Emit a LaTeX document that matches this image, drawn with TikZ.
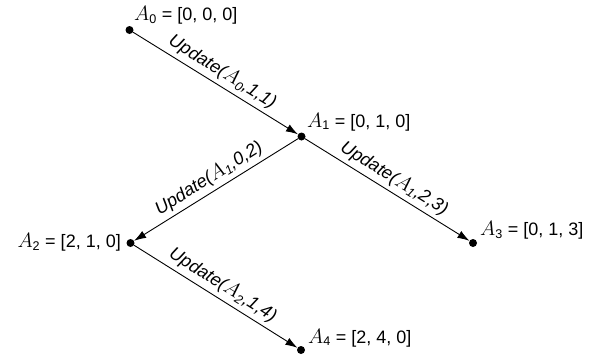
\documentclass[tikz,border=0pt]{standalone}
\usepackage{fontspec}
\setmainfont{Liberation Sans}
\usetikzlibrary{arrows.meta}
\newcommand{\Avar}[1]{\scalebox{1.2}{$A$}\textsubscript{#1}}
\begin{document}
\begin{tikzpicture}[x=1pt,y=-1pt,
  dot/.style={circle,fill=black,inner sep=0pt,minimum size=8pt},
  vlabel/.style={inner sep=0pt,font=\fontsize{18}{22}\selectfont},
  elabel/.style={sloped,above=4pt,inner sep=0pt,font=\fontsize{18}{22}\selectfont\itshape},
  edge/.style={line width=0.9pt,-{Latex[length=12pt,width=8pt]},shorten >=0pt}]
\useasboundingbox (0,0) rectangle (605,360);
\node[dot] (a0) at (129.5,30) {};
\node[dot] (a1) at (301.5,136.5) {};
\node[dot] (a2) at (130.5,243) {};
\node[dot] (a3) at (473,243) {};
\node[dot] (a4) at (301,350) {};
\node[vlabel,anchor=west] (l0) at (134,15) {\Avar{0} = [0, 0, 0]};
\node[vlabel,anchor=west] (l1) at (307,122) {\Avar{1} = [0, 1, 0]};
\node[vlabel,anchor=east] (l2) at (121,242) {\Avar{2} = [2, 1, 0]};
\node[vlabel,anchor=west] (l3) at (480,230) {\Avar{3} = [0, 1, 3]};
\node[vlabel,anchor=west] (l4) at (308,338) {\Avar{4} = [2, 4, 0]};
\draw[edge] (a0) -- node[elabel] {Update(\Avar{0},1,1)} (a1);
\draw[edge] (a1) -- node[elabel] {Update(\Avar{1},0,2)} (a2);
\draw[edge] (a1) -- node[elabel] {Update(\Avar{1},2,3)} (a3);
\draw[edge] (a2) -- node[elabel] {Update(\Avar{2},1,4)} (a4);
\end{tikzpicture}
\end{document}
